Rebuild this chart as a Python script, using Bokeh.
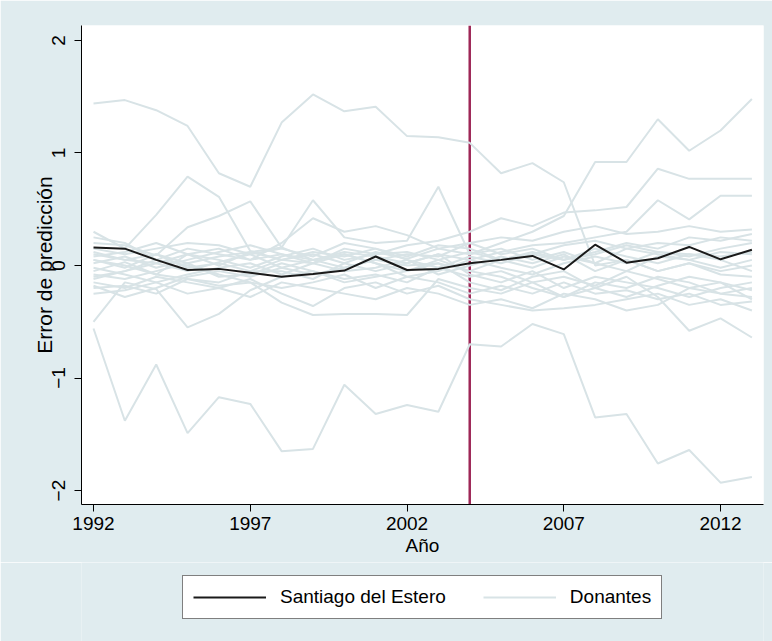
from bokeh.plotting import figure
from bokeh.models import Range1d, Span, Legend, LegendItem, FixedTicker
from bokeh.layouts import column
from bokeh.embed import file_html
from bokeh.resources import INLINE

years = list(range(1992, 2014))
treatment_year = 2004
x_ticks = [1992, 1997, 2002, 2007, 2012]
y_ticks = [-2, -1, 0, 1, 2]

sde = [0.16, 0.15, 0.05, -0.04, -0.03, -0.065, -0.10, -0.075, -0.045, 0.08, -0.04,
       -0.03, 0.02, 0.05, 0.085, -0.035, 0.185, 0.025, 0.065, 0.165, 0.055, 0.14]

d01 = [1.44, 1.47, 1.38, 1.24, 0.82, 0.70, 1.27, 1.52, 1.37, 1.41, 1.15,
       1.14, 1.09, 0.82, 0.91, 0.74, 0.00, 0.05, -0.05, 0.02, -0.08, -0.10]
d02 = [-0.56, -1.38, -0.88, -1.49, -1.17, -1.23, -1.65, -1.63, -1.06, -1.32, -1.24,
       -1.30, -0.70, -0.72, -0.52, -0.61, -1.35, -1.32, -1.76, -1.64, -1.93, -1.88]
d03 = [0.05, -0.02, 0.10, 0.02, 0.08, 0.12, 0.05, 0.10, 0.02, 0.12, 0.06,
       0.15, 0.10, 0.20, 0.30, 0.44, 0.92, 0.92, 1.30, 1.02, 1.20, 1.48]
d04 = [-0.05, 0.03, -0.08, 0.10, 0.05, -0.02, 0.08, 0.15, 0.05, 0.10, 0.18,
       0.22, 0.30, 0.42, 0.35, 0.47, 0.49, 0.52, 0.86, 0.77, 0.77, 0.77]
d05 = [0.10, 0.05, 0.02, -0.05, 0.03, 0.10, -0.02, 0.05, 0.12, 0.08, 0.02,
       0.10, 0.05, 0.12, 0.18, 0.20, 0.25, 0.30, 0.58, 0.41, 0.62, 0.62]
d06 = [0.30, 0.15, 0.45, 0.79, 0.61, 0.13, 0.05, 0.12, 0.08, 0.15, 0.05,
       -0.02, 0.08, 0.02, 0.10, 0.05, 0.12, 0.20, 0.15, 0.25, 0.22, 0.28]
d07 = [0.20, 0.18, 0.09, 0.34, 0.44, 0.57, 0.16, 0.05, 0.10, 0.02, -0.05,
       0.05, 0.12, 0.05, -0.02, 0.08, 0.02, 0.15, 0.10, 0.05, 0.12, 0.10]
d08 = [-0.10, -0.05, 0.02, 0.10, 0.00, 0.12, 0.16, 0.58, 0.25, 0.20, 0.22,
       0.70, 0.10, 0.15, 0.05, 0.12, 0.02, -0.05, 0.08, 0.05, -0.02, 0.05]
d09 = [-0.50, -0.15, -0.21, -0.55, -0.43, -0.22, -0.10, -0.05, -0.12, -0.08, -0.15,
       -0.02, -0.10, -0.05, -0.15, -0.10, -0.18, -0.05, -0.12, -0.20, -0.15, -0.22]
d10 = [-0.20, -0.18, -0.25, -0.12, -0.18, -0.15, -0.33, -0.44, -0.43, -0.43, -0.44,
       -0.12, -0.20, -0.25, -0.15, -0.28, -0.20, -0.10, -0.28, -0.58, -0.47, -0.64]
d11 = [0.25, 0.20, 0.05, 0.15, 0.10, 0.05, 0.20, 0.42, 0.30, 0.35, 0.27,
       0.15, 0.20, 0.10, 0.15, 0.05, 0.10, 0.18, 0.12, 0.08, 0.15, 0.20]
d12 = [-0.15, -0.20, -0.10, -0.15, -0.20, -0.12, -0.25, -0.36, -0.20, -0.15, -0.25,
       -0.18, -0.30, -0.35, -0.40, -0.38, -0.35, -0.30, -0.25, -0.35, -0.30, -0.40]
d13 = [0.08, 0.12, 0.20, 0.10, 0.15, 0.05, 0.10, 0.02, 0.15, 0.10, 0.12,
       0.05, -0.05, -0.10, -0.20, -0.28, -0.15, -0.20, -0.10, -0.15, -0.25, -0.20]
d14 = [-0.08, -0.12, -0.05, 0.02, -0.10, -0.08, 0.02, -0.05, -0.15, -0.10, -0.05,
       0.02, -0.15, -0.22, -0.10, -0.05, -0.20, -0.28, -0.18, -0.10, -0.15, -0.30]
d15 = [0.02, 0.08, -0.02, 0.05, 0.12, 0.18, 0.10, 0.05, -0.02, 0.05, 0.10,
       0.08, 0.20, 0.25, 0.22, 0.30, 0.35, 0.28, 0.30, 0.35, 0.30, 0.32]
d16 = [-0.25, -0.22, -0.15, -0.25, -0.20, -0.28, -0.15, -0.20, -0.25, -0.30, -0.20,
       -0.25, -0.35, -0.30, -0.38, -0.25, -0.30, -0.40, -0.35, -0.20, -0.25, -0.28]
d17 = [0.15, 0.10, 0.15, 0.20, 0.18, 0.10, 0.15, 0.08, 0.20, 0.15, 0.08,
       0.18, 0.15, 0.05, 0.10, 0.18, 0.22, 0.15, 0.20, 0.18, 0.25, 0.22]
d18 = [-0.02, -0.08, -0.15, -0.08, -0.02, 0.02, -0.08, 0.02, -0.05, -0.02, 0.05,
       -0.08, 0.00, 0.08, 0.02, 0.10, -0.05, 0.05, -0.05, 0.02, -0.05, 0.00]
d19 = [0.12, 0.05, 0.10, -0.02, 0.02, -0.05, -0.05, -0.12, 0.02, -0.05, 0.02,
       0.10, -0.08, -0.15, -0.05, -0.20, -0.10, -0.15, -0.20, -0.28, -0.20, -0.15]
d20 = [-0.12, -0.05, 0.05, 0.00, -0.08, -0.15, -0.20, -0.15, -0.08, -0.20, -0.10,
       -0.05, 0.05, -0.02, -0.08, 0.02, 0.08, 0.02, 0.12, 0.10, 0.05, -0.05]
d21 = [0.05, 0.00, -0.08, -0.12, -0.15, -0.05, 0.05, 0.02, 0.10, 0.02, -0.10,
       -0.15, -0.25, -0.18, -0.25, -0.15, -0.25, -0.22, -0.30, -0.25, -0.35, -0.32]
d22 = [-0.18, -0.28, -0.20, -0.10, -0.05, -0.10, -0.02, -0.08, -0.02, 0.05, 0.00,
       0.02, -0.05, 0.05, 0.12, 0.05, 0.15, 0.08, 0.02, 0.10, 0.08, 0.12]

donors = [d01, d02, d03, d04, d05, d06, d07, d08, d09, d10, d11,
          d12, d13, d14, d15, d16, d17, d18, d19, d20, d21, d22]

series_labels = ["Santiago del Estero", "Donantes"]

FONT = "Liberation Sans"
BG = "#E0ECEF"
DONOR = "#D8E3E6"
SDE_COLOR = "#1A1A1A"

p = figure(width=772, height=562, output_backend="svg", toolbar_location=None,
           x_range=Range1d(1991.617, 2013.37), y_range=Range1d(-2.124, 2.133),
           min_border_left=81, min_border_right=9, min_border_top=25,
           min_border_bottom=58)
p.background_fill_color = "white"
p.border_fill_color = BG
p.outline_line_color = None
p.xgrid.visible = False
p.ygrid.visible = False

vline = Span(location=treatment_year, dimension="height", line_color="#9E2757",
             line_width=2.5, level="underlay")
p.add_layout(vline)

r_don = p.multi_line([years] * len(donors), donors, line_color=DONOR, line_width=2)
r_sde = p.line(years, sde, line_color=SDE_COLOR, line_width=2)

for ax in (p.xaxis[0], p.yaxis[0]):
    ax.axis_line_color = "black"
    ax.axis_line_width = 1
    ax.major_tick_line_color = "black"
    ax.major_tick_out = 7
    ax.major_tick_in = 0
    ax.minor_tick_line_color = None
    ax.major_label_text_font = FONT
    ax.major_label_text_font_size = "19px"
    ax.major_label_text_color = "black"
    ax.axis_label_text_font = FONT
    ax.axis_label_text_font_size = "19px"
    ax.axis_label_text_font_style = "normal"
    ax.axis_label_text_color = "black"

p.xaxis.ticker = FixedTicker(ticks=x_ticks)
p.yaxis.ticker = FixedTicker(ticks=y_ticks)
p.yaxis.major_label_orientation = "vertical"
p.xaxis.axis_label = "Año"
p.yaxis.axis_label = "Error de predicción"
p.yaxis.axis_label_text_font_size = "21px"
p.xaxis.major_label_standoff = 5
p.xaxis.axis_label_standoff = 2
p.yaxis.major_label_standoff = 9
p.yaxis.axis_label_standoff = -6

# legend strip below the plot (its data sits outside this strip's view)
p2 = figure(width=772, height=79, output_backend="svg", toolbar_location=None,
            x_axis_type=None, y_axis_type=None, min_border=0,
            x_range=Range1d(0, 1), y_range=Range1d(0, 1))
p2.background_fill_color = BG
p2.border_fill_color = BG
p2.outline_line_color = None
p2.xgrid.visible = False
p2.ygrid.visible = False
k_sde = p2.line(years, sde, line_color=SDE_COLOR, line_width=2)
k_don = p2.multi_line([years] * len(donors), donors, line_color=DONOR, line_width=2)

legend = Legend(items=[LegendItem(label=series_labels[0], renderers=[k_sde]),
                       LegendItem(label=series_labels[1], renderers=[k_don])],
                orientation="horizontal", location=(101, 22),
                glyph_width=73, glyph_height=20, label_standoff=14, spacing=37,
                padding=10, margin=0,
                border_line_color="black", border_line_width=1,
                background_fill_color="white", background_fill_alpha=1,
                label_text_font=FONT, label_text_font_size="19px",
                label_text_color="black")
p2.add_layout(legend)

open("out.html", "w").write(file_html(column(p, p2, spacing=0), INLINE))
